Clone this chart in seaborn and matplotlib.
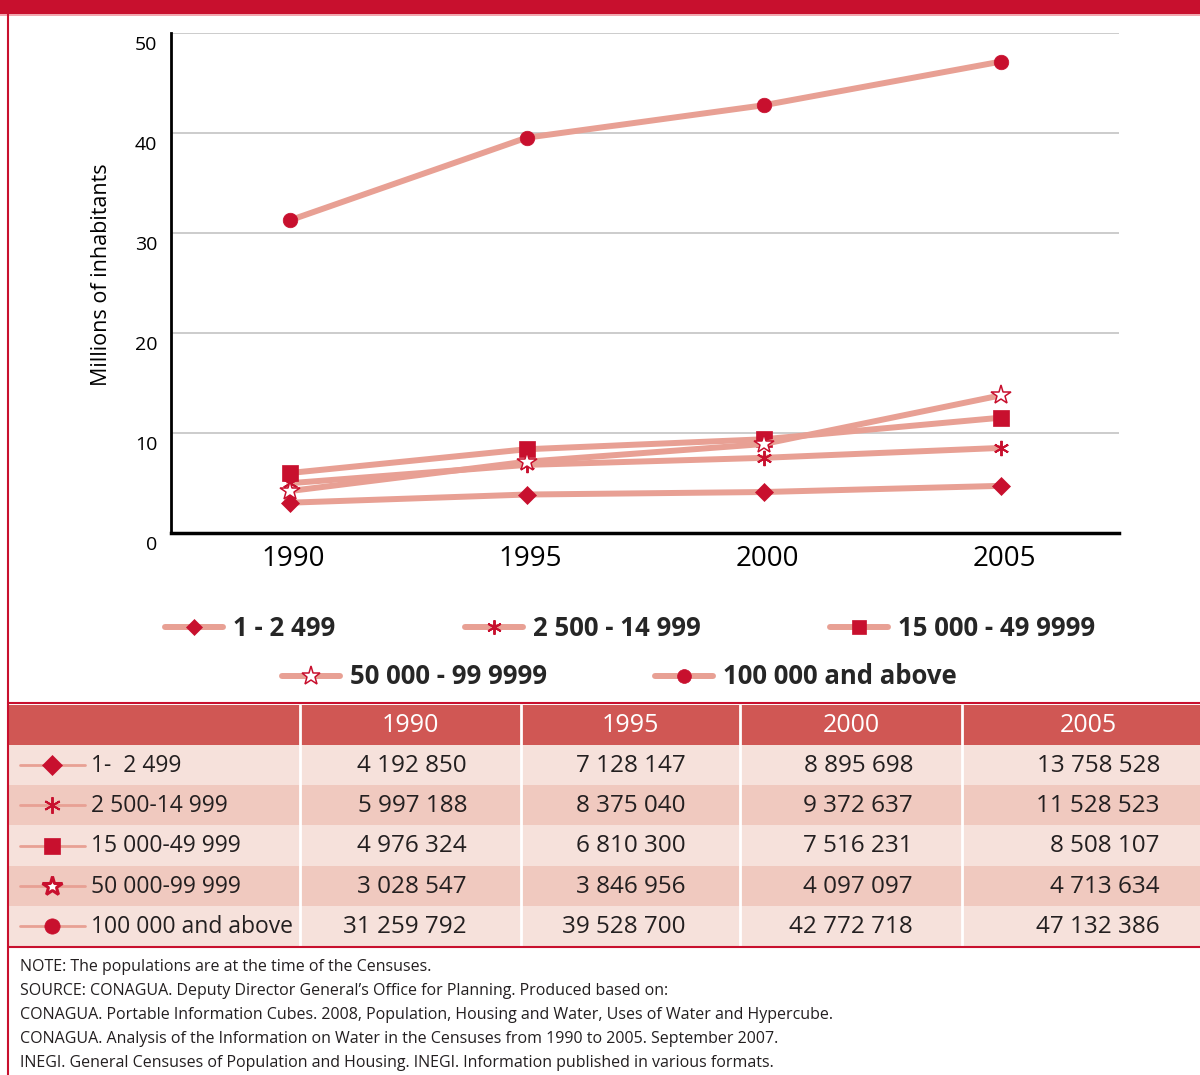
import matplotlib
matplotlib.use("Agg")
import matplotlib.pyplot as plt
import matplotlib.transforms as mtransforms
import seaborn as sns
import pandas as pd
from matplotlib.lines import Line2D
from matplotlib.patches import Rectangle

# ---------------- data ----------------
years = [1990, 1995, 2000, 2005]
row_labels = ["1-  2 499", "2 500-14 999", "15 000-49 999", "50 000-99 999", "100 000 and above"]
pop_1_2499 = [4192850, 7128147, 8895698, 13758528]
pop_2500_14999 = [5997188, 8375040, 9372637, 11528523]
pop_15000_49999 = [4976324, 6810300, 7516231, 8508107]
pop_50000_99999 = [3028547, 3846956, 4097097, 4713634]
pop_100000_up = [31259792, 39528700, 42772718, 47132386]
table_rows = [pop_1_2499, pop_2500_14999, pop_15000_49999, pop_50000_99999, pop_100000_up]

# series as drawn in the chart (marker order of the picture)
chart_labels = ["1 - 2 499", "2 500 - 14 999", "15 000 - 49 9999", "50 000 - 99 9999", "100 000 and above"]
chart_series = [pop_50000_99999, pop_15000_49999, pop_2500_14999, pop_1_2499, pop_100000_up]
y_ticks = [0, 10, 20, 30, 40, 50]
y_label = "Millions of inhabitants"

notes = [
    "NOTE: The populations are at the time of the Censuses.",
    "SOURCE: CONAGUA. Deputy Director General\u2019s Office for Planning. Produced based on:",
    "CONAGUA. Portable Information Cubes. 2008, Population, Housing and Water, Uses of Water and Hypercube.",
    "CONAGUA. Analysis of the Information on Water in the Censuses from 1990 to 2005. September 2007.",
    "INEGI. General Censuses of Population and Housing. INEGI. Information published in various formats.",
]

# ---------------- style ----------------
CRIMSON = "#C8102E"
LINE = "#E8A094"
HEADER = "#D05754"
ROW_A = "#F6E1DB"
ROW_B = "#F0C9BF"
TXT = "#231F20"

sns.set_theme(style="white")
plt.rcParams["font.family"] = ["Open Sans", "DejaVu Sans"]

W, H = 1200, 1075
fig = plt.figure(figsize=(W / 100, H / 100), dpi=100)

# overlay axes in pixel coordinates for frame & table
ov = fig.add_axes([0, 0, 1, 1], zorder=0)
ov.set_xlim(0, W)
ov.set_ylim(H, 0)
ov.axis("off")

# top bar and border
ov.add_patch(Rectangle((0, 0), W, 14, color=CRIMSON, lw=0))
ov.add_patch(Rectangle((0, 14), W, 1.5, color="#F2A7AF", lw=0))
ov.plot([8, 8], [14, H], color=CRIMSON, lw=1.5)

# ---------------- chart ----------------
ax = fig.add_axes([171 / W, (H - 533) / H, (1119 - 171) / W, (533 - 33) / H], zorder=2)
ax.patch.set_alpha(0)

markers = ["D", (6, 2, 0), "s", "*", "o"]
msizes = [9, 11, 11, 15, 10.5]
mfcs = [CRIMSON, CRIMSON, CRIMSON, "white", CRIMSON]
mews = [0.5, 1.4, 0.5, 1.1, 0.5]

for vals, m, ms, fc, mew in zip(chart_series, markers, msizes, mfcs, mews):
    df = pd.DataFrame({"year": years, "pop": [v / 1e6 for v in vals]})
    sns.lineplot(data=df, x="year", y="pop", ax=ax, color=LINE, linewidth=4.3,
                 marker=m, markersize=ms, markerfacecolor=fc,
                 markeredgecolor=CRIMSON, markeredgewidth=mew, zorder=3)

ax.set_xlim(1987.5, 2007.5)
ax.set_ylim(0, 50)
ax.set_yticks(y_ticks)
ax.set_yticklabels([str(t) for t in y_ticks])
ax.set_xticks(years)
ax.set_xticklabels([str(y) for y in years])
ax.set_xticks([1992.5, 1997.5, 2002.5, 2007.5], minor=True)
ax.tick_params(axis="x", which="major", length=0, labelsize=20, pad=9, labelcolor="black")
ax.tick_params(axis="x", which="minor", direction="in", length=12, width=2, color="black")
ax.tick_params(axis="y", which="major", length=0, labelsize=14, pad=10, labelcolor="black")
offset = mtransforms.ScaledTranslation(0, -10 / 100, fig.dpi_scale_trans)
for lab in ax.get_yticklabels():
    lab.set_transform(lab.get_transform() + offset)
xoff = mtransforms.ScaledTranslation(4 / 100, 0, fig.dpi_scale_trans)
for lab in ax.get_xticklabels():
    lab.set_transform(lab.get_transform() + xoff)
ax.set_xlabel("")
ax.set_ylabel(y_label, fontsize=15.5, color="black")
ax.yaxis.set_label_coords(-69 / 948, (533 - 275) / 500)
ax.yaxis.label.set_verticalalignment("center")
ax.yaxis.grid(True, color="#C8C8C8", lw=1.3)
ax.xaxis.grid(False)
ax.set_axisbelow(True)
for s in ["top", "right"]:
    ax.spines[s].set_visible(False)
ax.spines["left"].set_color("black")
ax.spines["left"].set_linewidth(2)
ax.spines["bottom"].set_color("black")
ax.spines["bottom"].set_linewidth(2.5)

# ---------------- legend ----------------
leg_pos = [(165, 628), (465, 628), (830, 628), (282, 677), (655, 677)]
for lab, m, ms, fc, mew, (px, py) in zip(chart_labels, markers, msizes, mfcs, mews, leg_pos):
    h = Line2D([], [], color=LINE, lw=4.3, marker=m, markersize=ms * 0.95,
               markerfacecolor=fc, markeredgecolor=CRIMSON, markeredgewidth=mew)
    lg = fig.legend(handles=[h], labels=[lab], loc="center left",
                    bbox_to_anchor=(px / W, 1 - py / H), frameon=False,
                    borderpad=0, borderaxespad=0, handlelength=2.25, handletextpad=0.4,
                    prop={"family": ["Open Sans", "DejaVu Sans"], "weight": "bold", "size": 18.5})

# ---------------- table ----------------
col_edges = [8, 300, 521, 740, 962, W]
num_right = [467, 686, 913, 1160]
hdr_top, hdr_bot = 705, 745
row_h = 40.2
ov.add_patch(Rectangle((8, hdr_top), W - 8, hdr_bot - hdr_top, color=HEADER, lw=0))
for i in range(len(row_labels)):
    y0 = hdr_bot + i * row_h
    ov.add_patch(Rectangle((8, y0), W - 8, row_h, color=ROW_A if i % 2 == 0 else ROW_B, lw=0))
tab_bot = hdr_bot + len(row_labels) * row_h
for xe in col_edges[1:-1]:
    ov.plot([xe, xe], [hdr_top, tab_bot], color="white", lw=2)
ov.plot([8, W], [703, 703], color=CRIMSON, lw=1.5)
ov.plot([8, W], [tab_bot + 1, tab_bot + 1], color=CRIMSON, lw=1.5)

hdr_cx = [410, 630, 851, 1088]
for j, yr in enumerate(years):
    ov.text(hdr_cx[j], (hdr_top + hdr_bot) / 2 + 1, str(yr), color="white", fontsize=18,
            ha="center", va="center")

tab_markers = ["D", (6, 2, 0), "s", "*", "o"]
tab_ms = [10, 12, 11.5, 15, 11]
tab_fc = [CRIMSON, CRIMSON, CRIMSON, "white", CRIMSON]
tab_mew = [0.5, 1.4, 0.5, 2.2, 0.5]


def fmt(v):
    return f"{v:,}".replace(",", " ")


for i, (lab, vals) in enumerate(zip(row_labels, table_rows)):
    cy = hdr_bot + i * row_h + row_h / 2
    ov.plot([20, 85], [cy, cy], color=LINE, lw=2)
    ov.plot([52], [cy], marker=tab_markers[i], markersize=tab_ms[i],
            markerfacecolor=tab_fc[i], markeredgecolor=CRIMSON, markeredgewidth=tab_mew[i],
            linestyle="none")
    ov.text(91, cy + 1, lab, color=TXT, fontsize=16.5, ha="left", va="center")
    for j, v in enumerate(vals):
        ov.text(num_right[j], cy + 1, fmt(v), color=TXT, fontsize=17.5, ha="right", va="center")

# ---------------- notes ----------------
for k, line in enumerate(notes):
    ov.text(20, 967 + k * 24, line, color=TXT, fontsize=11.5, ha="left", va="center")

fig.savefig("out.png", dpi=100)
